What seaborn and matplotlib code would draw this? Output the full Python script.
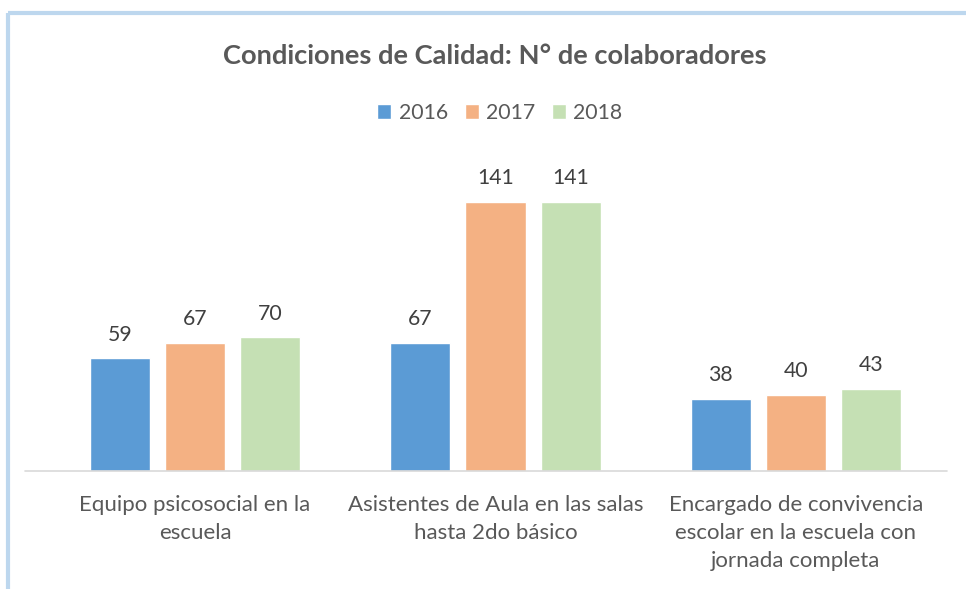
import matplotlib.pyplot as plt
import seaborn as sns
import pandas as pd
from matplotlib.lines import Line2D
from matplotlib.patches import Patch

# Datos
categorias = ["Equipo psicosocial en la escuela",
              "Asistentes de Aula en las salas hasta 2do básico",
              "Encargado de convivencia escolar en la escuela con jornada completa"]
etiquetas = ["Equipo psicosocial en la\nescuela",
             "Asistentes de Aula en las salas\nhasta 2do básico",
             "Encargado de convivencia\nescolar en la escuela con\njornada completa"]
anios = ["2016", "2017", "2018"]
v2016 = [59, 67, 38]
v2017 = [67, 141, 40]
v2018 = [70, 141, 43]

palette = {"2016": "#5B9BD5", "2017": "#F4B183", "2018": "#C5E0B4"}
gris = "#595959"

df = pd.DataFrame({
    "Categoria": categorias * 3,
    "Anio": [a for a in anios for _ in categorias],
    "Valor": v2016 + v2017 + v2018,
})

sns.set_theme(style="white")
plt.rcParams['font.family'] = ['Lato', 'DejaVu Sans']

fig = plt.figure(figsize=(9.66, 5.89), dpi=100)
fig.patch.set_facecolor("white")
ax = fig.add_axes([0.0463, 0.2003, 0.9332, 0.5183])

sns.barplot(data=df, x="Categoria", y="Valor", hue="Anio", hue_order=anios,
            palette=palette, width=0.75, gap=0.2, saturation=1,
            legend=False, ax=ax)

ax.set_xlim(-0.5, 2.5)
ax.set_ylim(0, 160)
ax.set_xlabel("")
ax.set_ylabel("")
ax.set_yticks([])
for s in ["top", "right", "left", "bottom"]:
    ax.spines[s].set_visible(False)

for cont in ax.containers:
    ax.bar_label(cont, padding=10, fontsize=15.3, color="#404040")

ax.set_xticks(range(len(etiquetas)))
ax.set_xticklabels(etiquetas, fontsize=16, color=gris, linespacing=1.5)
ax.tick_params(axis="x", length=0, pad=17)

# línea base
fig.add_artist(Line2D([25 / 966, 947 / 966], [0.2003, 0.2003],
                      color="#D9D9D9", lw=1.2, transform=fig.transFigure))

fig.text(495 / 966, 1 - 56 / 589, "Condiciones de Calidad: N° de colaboradores",
         ha="center", va="center", fontsize=19.6, fontweight="bold", color=gris)

handles = [Patch(facecolor=palette[a], label=a) for a in anios]
fig.legend(handles=handles, loc="center", bbox_to_anchor=(500 / 966, 1 - 113 / 589),
           ncol=3, frameon=False, fontsize=15.3, handlelength=0.65, handleheight=0.65,
           handletextpad=0.35, columnspacing=0.8, labelcolor=gris)

# marco del gráfico
fig.add_artist(Line2D([8 / 966, 8 / 966], [0, 1 - 13 / 589], color="#BDD7EE",
                      lw=3, transform=fig.transFigure, solid_capstyle="butt"))
fig.add_artist(Line2D([8 / 966, 1], [1 - 13 / 589, 1 - 13 / 589], color="#BDD7EE",
                      lw=3, transform=fig.transFigure, solid_capstyle="butt"))

fig.savefig("out.png", dpi=100, facecolor="white")
